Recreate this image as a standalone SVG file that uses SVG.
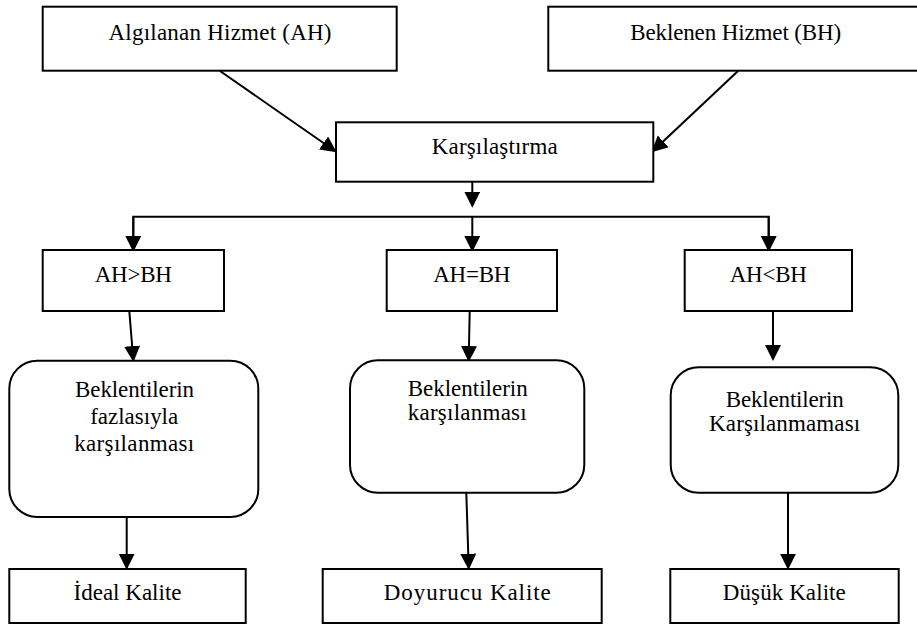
<svg xmlns="http://www.w3.org/2000/svg" width="917" height="626" viewBox="0 0 917 626">
<defs>
<style>
.box{fill:#fff;stroke:#000;stroke-width:2}
.t{font-family:"Liberation Serif","Times New Roman",serif;font-size:23px;fill:#000;text-anchor:middle}
.c{fill:none;stroke:#000;stroke-width:2}
</style>
<marker id="ah" markerUnits="userSpaceOnUse" markerWidth="17" markerHeight="17" refX="14" refY="8" orient="auto" viewBox="0 0 17 17">
<path d="M0,0 L16,8 L0,16 z" fill="#000"/>
</marker>
</defs>
<rect width="917" height="626" fill="#fff"/>
<g id="connectors">
<line class="c" x1="220" y1="71" x2="335" y2="151" marker-end="url(#ah)"/>
<line class="c" x1="738" y1="71" x2="653" y2="151" marker-end="url(#ah)"/>
<line class="c" x1="472.3" y1="182" x2="472.3" y2="205.7" marker-end="url(#ah)"/>
<polyline class="c" points="133.3,250 133.3,216.7 768.7,216.7 768.7,250"/>
<line class="c" x1="133.3" y1="216.7" x2="133.3" y2="250" marker-end="url(#ah)"/>
<line class="c" x1="472.3" y1="216.7" x2="472.3" y2="250" marker-end="url(#ah)"/>
<line class="c" x1="768.7" y1="216.7" x2="768.7" y2="250" marker-end="url(#ah)"/>
<line class="c" x1="129.3" y1="311" x2="133.3" y2="360" marker-end="url(#ah)"/>
<line class="c" x1="469.7" y1="311" x2="468.7" y2="360" marker-end="url(#ah)"/>
<line class="c" x1="773" y1="311" x2="773" y2="359" marker-end="url(#ah)"/>
<line class="c" x1="126.7" y1="517" x2="126.7" y2="567.7" marker-end="url(#ah)"/>
<line class="c" x1="466.3" y1="493" x2="468.7" y2="567.7" marker-end="url(#ah)"/>
<line class="c" x1="788" y1="493" x2="788" y2="567.7" marker-end="url(#ah)"/>
</g>
<g id="ah-node">
<rect class="box" x="42.7" y="6.7" width="354" height="64"/>
<text class="t" x="220" y="40" textLength="223">Algılanan Hizmet (AH)</text>
</g>
<g id="bh-node">
<rect class="box" x="548.3" y="6.7" width="375" height="64"/>
<text class="t" x="735.7" y="40" textLength="211">Beklenen Hizmet (BH)</text>
</g>
<g id="karsilastirma">
<rect class="box" x="336" y="122.3" width="317.3" height="59.4"/>
<text class="t" x="494.7" y="154.3" textLength="126">Karşılaştırma</text>
</g>
<g id="gt">
<rect class="box" x="42.7" y="250" width="181.3" height="61"/>
<text class="t" x="133.3" y="281.7" textLength="77">AH&gt;BH</text>
</g>
<g id="eq">
<rect class="box" x="386.7" y="250" width="170.3" height="61"/>
<text class="t" x="471.8" y="281.7" textLength="77">AH=BH</text>
</g>
<g id="lt">
<rect class="box" x="684.7" y="250" width="167.3" height="61"/>
<text class="t" x="768.3" y="281.7" textLength="77">AH&lt;BH</text>
</g>
<g id="r1">
<rect class="box" x="9.3" y="360.7" width="249" height="156.3" rx="28" ry="28"/>
<text class="t" x="134.5" y="397.3" textLength="119">Beklentilerin</text>
<text class="t" x="134.2" y="424" textLength="88">fazlasıyla</text>
<text class="t" x="134.2" y="450.7" textLength="120">karşılanması</text>
</g>
<g id="r2">
<rect class="box" x="350" y="360.3" width="234.3" height="132.4" rx="28" ry="28"/>
<text class="t" x="467.7" y="395.7" textLength="120">Beklentilerin</text>
<text class="t" x="467.2" y="420" textLength="119">karşılanması</text>
</g>
<g id="r3">
<rect class="box" x="670.7" y="367.3" width="227.6" height="125.4" rx="28" ry="28"/>
<text class="t" x="784.8" y="406.7" textLength="118">Beklentilerin</text>
<text class="t" x="784.6" y="430.7" textLength="151">Karşılanmaması</text>
</g>
<g id="ideal">
<rect class="box" x="9.3" y="569" width="236.4" height="54"/>
<text class="t" x="127.5" y="600" textLength="108">İdeal Kalite</text>
</g>
<g id="doyurucu">
<rect class="box" x="322.7" y="569" width="279" height="54"/>
<text class="t" x="467.3" y="600" textLength="167">Doyurucu Kalite</text>
</g>
<g id="dusuk">
<rect class="box" x="670.3" y="569" width="228.4" height="54"/>
<text class="t" x="784.3" y="600" textLength="123">Düşük Kalite</text>
</g>
</svg>
